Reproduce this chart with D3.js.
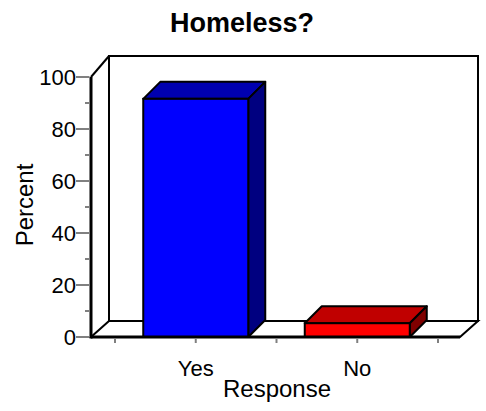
<!DOCTYPE html>
<html><head><meta charset="utf-8">
<script src="https://cdn.jsdelivr.net/npm/d3@7"></script>
<style>body{margin:0;background:#fff}svg{display:block}text{font-family:"Liberation Sans",Arial,Helvetica,sans-serif}</style>
</head><body>
<script>
const title = "Homeless?";
const categories = ["Yes", "No"];
const values = [91.6, 5.3];
const yTicks = [0, 20, 40, 60, 80, 100];
const yMinorTicks = [10, 30, 50, 70, 90];
const xLabel = "Response";
const yLabel = "Percent";
const frontColors = ["#0000ff", "#ff0000"];
const topColors = ["#0000b0", "#c00000"];
const sideColors = ["#000080", "#800000"];

const W = 486, H = 411;
const svg = d3.select("body").append("svg").attr("width", W).attr("height", H);

const y = d3.scaleLinear().domain([0, 100]).range([337, 77]);
const x = d3.scaleBand().domain(categories).range([115, 438]).padding(0);
const frontLeft = 91, frontRight = 460;
const wallDx = 18, floorDy = -16, wallTopDy = -21;
const barDx = 17, barDy = -17;
const barW = 105;

// back wall
const bx0 = frontLeft + wallDx, bx1 = frontRight + wallDx;
const by0 = y(0) + floorDy, byTop = y(100) + wallTopDy;
svg.append("path")
  .attr("d", `M${bx0},${by0}L${bx0},${byTop}L${bx1},${byTop}L${bx1},${by0}Z`)
  .attr("fill", "#fff").attr("stroke", "#000").attr("stroke-width", 2);
svg.append("line").attr("x1", frontLeft).attr("y1", y(100)).attr("x2", bx0).attr("y2", byTop)
  .attr("stroke", "#000").attr("stroke-width", 2);
// floor
svg.append("path")
  .attr("d", `M${frontLeft},${y(0)}L${bx0},${by0}L${bx1},${by0}L${frontRight},${y(0)}Z`)
  .attr("fill", "#fff").attr("stroke", "#000").attr("stroke-width", 2);

// bars
const g = svg.append("g");
categories.forEach((c, i) => {
  const cx = x(c) + x.bandwidth() / 2;
  const x0 = cx - barW / 2, x1 = cx + barW / 2;
  const yt = y(values[i]), yb = y(0);
  g.append("path").attr("d", `M${x0},${yt}L${x0 + barDx},${yt + barDy}L${x1 + barDx},${yt + barDy}L${x1},${yt}Z`)
    .attr("fill", topColors[i]).attr("stroke", "#000").attr("stroke-width", 2).attr("stroke-linejoin", "round");
  g.append("path").attr("d", `M${x1},${yt}L${x1 + barDx},${yt + barDy}L${x1 + barDx},${yb + barDy}L${x1},${yb}Z`)
    .attr("fill", sideColors[i]).attr("stroke", "#000").attr("stroke-width", 2).attr("stroke-linejoin", "round");
  g.append("rect").attr("x", x0).attr("y", yt).attr("width", barW).attr("height", yb - yt)
    .attr("fill", frontColors[i]).attr("stroke", "#000").attr("stroke-width", 2);
});

svg.append("line").attr("x1", frontLeft).attr("y1", y(0)).attr("x2", frontRight).attr("y2", y(0))
  .attr("stroke", "#000").attr("stroke-width", 3);
svg.append("line").attr("x1", frontLeft).attr("y1", y(100)).attr("x2", frontLeft).attr("y2", y(0) + 1.5)
  .attr("stroke", "#000").attr("stroke-width", 3);

// y ticks
const ya = svg.append("g");
yTicks.forEach(t => {
  ya.append("line").attr("x1", 76).attr("x2", frontLeft - 1.5).attr("y1", y(t)).attr("y2", y(t))
    .attr("stroke", "#808080").attr("stroke-width", 2);
  ya.append("text").attr("x", 76).attr("y", y(t)).attr("dy", "0.36em").attr("text-anchor", "end")
    .attr("font-size", 22).attr("fill", "#000").text(t);
});
yMinorTicks.forEach(t => {
  ya.append("line").attr("x1", 85).attr("x2", frontLeft - 1.5).attr("y1", y(t)).attr("y2", y(t))
    .attr("stroke", "#808080").attr("stroke-width", 2);
});

// x ticks
const xTickPos = [];
categories.forEach(c => { xTickPos.push(x(c)); xTickPos.push(x(c) + x.bandwidth() / 2); });
xTickPos.push(x(categories[categories.length - 1]) + x.bandwidth());
xTickPos.forEach(p => {
  svg.append("line").attr("x1", p).attr("x2", p).attr("y1", y(0) + 1.5).attr("y2", y(0) + 6)
    .attr("stroke", "#808080").attr("stroke-width", 2);
});
categories.forEach(c => {
  svg.append("text").attr("x", x(c) + x.bandwidth() / 2).attr("y", 376).attr("text-anchor", "middle")
    .attr("font-size", 22).text(c);
});

svg.append("text").attr("x", 277).attr("y", 397).attr("text-anchor", "middle").attr("font-size", 24).text(xLabel);
svg.append("text").attr("transform", "translate(33,205) rotate(-90)").attr("text-anchor", "middle")
  .attr("font-size", 24).text(yLabel);
svg.append("text").attr("x", 242).attr("y", 32).attr("text-anchor", "middle").attr("font-size", 27)
  .attr("font-weight", "bold").text(title);
</script>
</body></html>
